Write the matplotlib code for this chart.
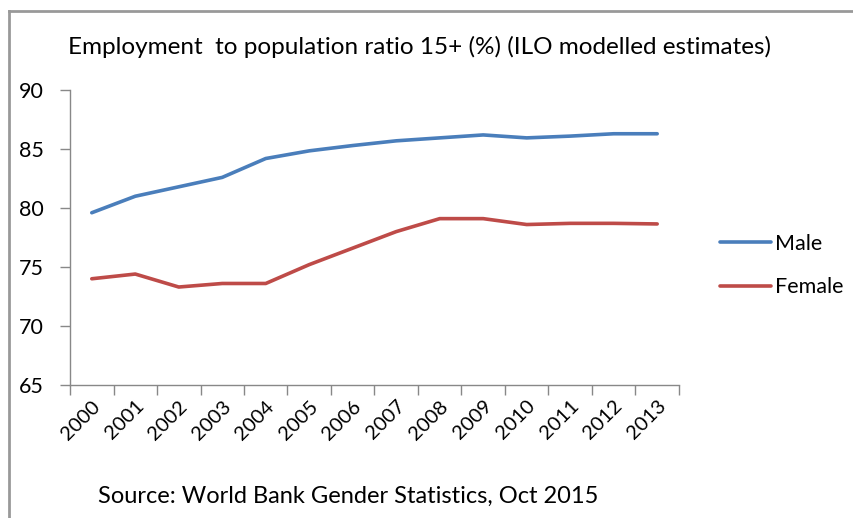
import matplotlib.pyplot as plt
from matplotlib.lines import Line2D

plt.rcParams['font.family'] = ['Lato', 'DejaVu Sans']

years = ['2000', '2001', '2002', '2003', '2004', '2005', '2006',
         '2007', '2008', '2009', '2010', '2011', '2012', '2013']
male = [79.6, 81.0, 81.8, 82.6, 84.2, 84.85, 85.3,
        85.7, 85.95, 86.2, 85.95, 86.1, 86.3, 86.3]
female = [74.0, 74.4, 73.3, 73.6, 73.6, 75.2, 76.6,
          78.0, 79.1, 79.1, 78.6, 78.7, 78.7, 78.65]

fig = plt.figure(figsize=(8.54, 5.18), dpi=100)
ax = fig.add_axes([0.082, 0.257, 0.713, 0.569])

x = range(len(years))
ax.plot(x, male, color='#4A7EBB', lw=2.6, label='Male', solid_capstyle='round')
ax.plot(x, female, color='#BE4B48', lw=2.6, label='Female', solid_capstyle='round')

ax.set_ylim(65, 90)
ax.set_yticks([65, 70, 75, 80, 85, 90])
ax.set_xlim(-0.5, len(years) - 0.5)
# Excel-style: tick marks between categories, labels at category centres
ax.set_xticks([i - 0.5 for i in range(len(years) + 1)], minor=False)
ax.set_xticklabels([])
ax.set_xticks(list(x), minor=True)
ax.set_xticklabels(years, minor=True, rotation=45, ha='right',
                   rotation_mode='anchor', fontsize=14.5)
ax.tick_params(axis='x', which='minor', length=0, pad=9)
ax.tick_params(axis='x', which='major', length=7, color='#888888', width=1)
ax.tick_params(axis='y', length=7, color='#888888', width=1, labelsize=15.5, pad=12)

for s in ['top', 'right']:
    ax.spines[s].set_visible(False)
for s in ['left', 'bottom']:
    ax.spines[s].set_color('#888888')
    ax.spines[s].set_linewidth(1)

ax.legend(loc='center left', bbox_to_anchor=(1.035, 0.405), frameon=False,
          fontsize=15.5, handlelength=2.4, handletextpad=0.15, labelspacing=1.1)

fig.text(0.08, 0.909, 'Employment  to population ratio 15+ (%) (ILO modelled estimates)',
         fontsize=17.5, ha='left', va='center')
fig.text(0.115, 0.0425, 'Source: World Bank Gender Statistics, Oct 2015',
         fontsize=17, ha='left', va='center')

# outer chart border (top and left edge visible)
fig.add_artist(Line2D([9 / 854, 9 / 854], [0, 1 - 11 / 518],
                      transform=fig.transFigure, color='#999999', lw=2))
fig.add_artist(Line2D([9 / 854, 1], [1 - 11 / 518, 1 - 11 / 518],
                      transform=fig.transFigure, color='#999999', lw=2))

fig.savefig('out.png', dpi=100)
